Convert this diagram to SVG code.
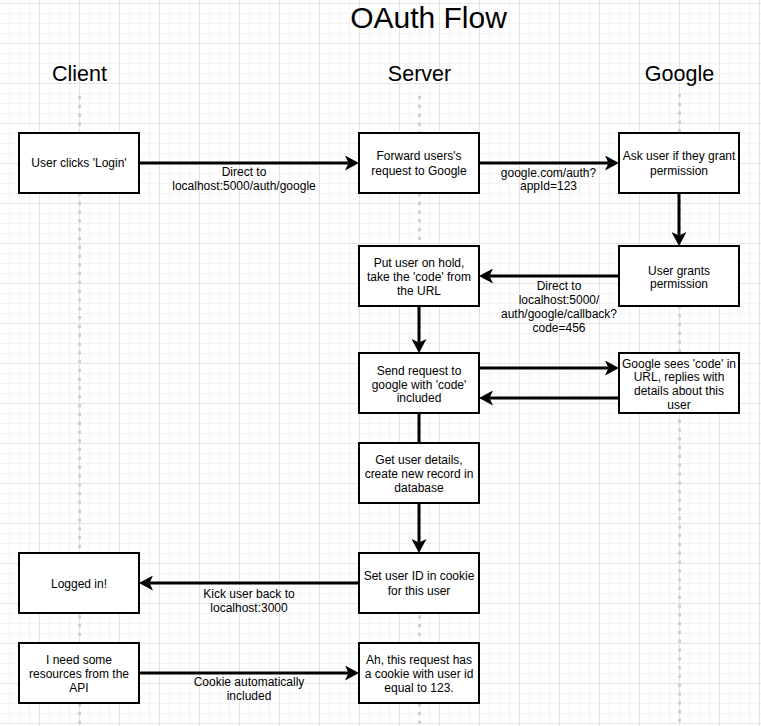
<svg xmlns="http://www.w3.org/2000/svg" width="761" height="726" viewBox="0 0 761 726">
<style>
text{font-family:"Liberation Sans",Arial,Helvetica,sans-serif;fill:#000;text-anchor:middle}
.t{font-size:12px}
.h{font-size:21.5px}
.title{font-size:30px}
.box{fill:#fff;stroke:#000;stroke-width:2}
.life{stroke:#d0d0d0;stroke-width:3;stroke-dasharray:3.3 5.5;fill:none}
.c{stroke:#000;stroke-width:3;fill:none}
.a{marker-end:url(#arr)}
</style>
<defs>
<pattern id="minor" patternUnits="userSpaceOnUse" x="-1" y="3" width="10" height="10">
<path d="M0.5 0V10M0 0.5H10" stroke="#f4f4f4" stroke-width="1"/>
</pattern>
<pattern id="major" patternUnits="userSpaceOnUse" x="-1" y="3" width="40" height="40">
<path d="M0.5 0V40M0 0.5H40" stroke="#e4e4e4" stroke-width="1"/>
</pattern>
<marker id="arr" viewBox="0 0 14 15" refX="3.5" refY="7.5" markerWidth="14" markerHeight="15" markerUnits="userSpaceOnUse" orient="auto">
<path d="M0 0L14 7.5L0 15L3.5 7.5Z" fill="#000"/>
</marker>
</defs>
<rect width="761" height="726" fill="#fff"/>
<rect width="761" height="726" fill="url(#minor)"/>
<rect width="761" height="726" fill="url(#major)"/>

<text class="title" x="428.5" y="28">OAuth Flow</text>

<g id="lifelines">
<g id="client-lane"><text class="h" x="79.5" y="80.5">Client</text><path class="life" d="M79.5 96V726"/></g>
<g id="server-lane"><text class="h" x="419.5" y="80.5">Server</text><path class="life" d="M419.5 96V726"/></g>
<g id="google-lane"><text class="h" x="679.5" y="80.5">Google</text><path class="life" d="M679.5 94V726"/></g>
</g>

<g id="connectors">
<path class="c a" d="M139 163H348.5"/>
<path class="c a" d="M479 163H608.5"/>
<path class="c a" d="M679 193V235.5"/>
<path class="c a" d="M619 276H489.5"/>
<path class="c a" d="M419 306V342.5"/>
<path class="c a" d="M479 368H608.5"/>
<path class="c a" d="M619 398H489.5"/>
<path class="c" d="M419 413V443"/>
<path class="c a" d="M419 503V542.5"/>
<path class="c a" d="M359 583H149.5"/>
<path class="c a" d="M139 673H348.5"/>
<text class="t" x="244" y="176">Direct to</text>
<text class="t" x="244" y="190">localhost:5000/auth/google</text>
<text class="t" x="548.5" y="177">google.com/auth?</text>
<text class="t" x="548.5" y="190">appId=123</text>
<text class="t" x="559" y="290">Direct to</text>
<text class="t" x="559" y="304">localhost:5000/</text>
<text class="t" x="559" y="318">auth/google/callback?</text>
<text class="t" x="559" y="332">code=456</text>
<text class="t" x="249" y="597.5">Kick user back to</text>
<text class="t" x="249" y="612">localhost:3000</text>
<text class="t" x="249" y="686">Cookie automatically</text>
<text class="t" x="249" y="699.5">included</text>
</g>

<g id="n-login"><rect class="box" x="19" y="133" width="120" height="60"/><text class="t" x="79" y="167.3">User clicks 'Login'</text></g>
<g id="n-forward"><rect class="box" x="359" y="133" width="120" height="60"/><text class="t" x="419" y="160.3">Forward users's</text><text class="t" x="419" y="175">request to Google</text></g>
<g id="n-ask"><rect class="box" x="619" y="133" width="120" height="60"/><text class="t" x="679" y="160.3">Ask user if they grant</text><text class="t" x="679" y="175">permission</text></g>
<g id="n-hold"><rect class="box" x="359" y="246" width="120" height="60"/><text class="t" x="419" y="267">Put user on hold,</text><text class="t" x="419" y="281">take the 'code' from</text><text class="t" x="419" y="295">the URL</text></g>
<g id="n-grants"><rect class="box" x="619" y="246" width="120" height="60"/><text class="t" x="679" y="274.5">User grants</text><text class="t" x="679" y="288">permission</text></g>
<g id="n-send"><rect class="box" x="359" y="353" width="120" height="60"/><text class="t" x="419" y="374.5">Send request to</text><text class="t" x="419" y="388.5">google with 'code'</text><text class="t" x="419" y="402">included</text></g>
<g id="n-sees"><rect class="box" x="619" y="353" width="120" height="60"/><text class="t" x="679" y="367.5">Google sees 'code' in</text><text class="t" x="679" y="381">URL, replies with</text><text class="t" x="679" y="395.3">details about this</text><text class="t" x="679" y="408.7">user</text></g>
<g id="n-details"><rect class="box" x="359" y="443" width="120" height="60"/><text class="t" x="419" y="463.5">Get user details,</text><text class="t" x="419" y="477.5">create new record in</text><text class="t" x="419" y="491.5">database</text></g>
<g id="n-logged"><rect class="box" x="19" y="553" width="120" height="60"/><text class="t" x="79" y="587.5">Logged in!</text></g>
<g id="n-cookie"><rect class="box" x="359" y="553" width="120" height="60"/><text class="t" x="419" y="580.3">Set user ID in cookie</text><text class="t" x="419" y="595">for this user</text></g>
<g id="n-need"><rect class="box" x="19" y="643" width="120" height="60"/><text class="t" x="79" y="663.5">I need some</text><text class="t" x="79" y="677.5">resources from the</text><text class="t" x="79" y="691.5">API</text></g>
<g id="n-ah"><rect class="box" x="359" y="643" width="120" height="60"/><text class="t" x="419" y="663.5">Ah, this request has</text><text class="t" x="419" y="677.5">a cookie with user id</text><text class="t" x="419" y="691.5">equal to 123.</text></g>
</svg>
